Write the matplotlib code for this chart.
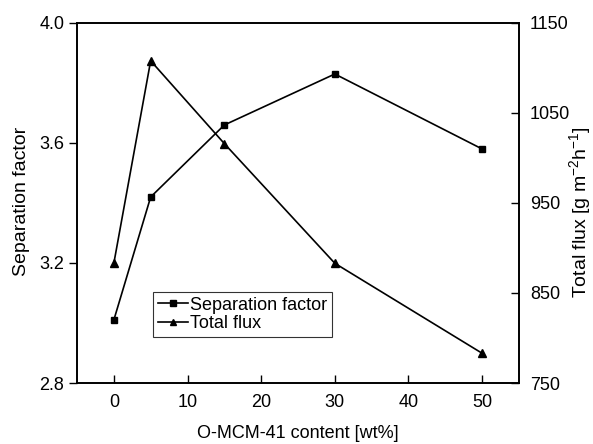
import matplotlib
matplotlib.use("Agg")
import matplotlib.pyplot as plt

plt.rcParams["font.family"] = ["Liberation Sans", "DejaVu Sans"]
plt.rcParams["mathtext.fontset"] = "custom"
plt.rcParams["mathtext.rm"] = "Liberation Sans"
plt.rcParams["mathtext.it"] = "Liberation Sans:italic"

content = [0, 5, 15, 30, 50]
separation_factor = [3.01, 3.42, 3.66, 3.83, 3.58]
total_flux = [883, 1108, 1016, 883, 783]

W, H = 593, 444
fig = plt.figure(figsize=(W / 100, H / 100), dpi=100)
ax = fig.add_axes([77 / W, 1 - 383 / H, (519 - 77) / W, (383 - 23) / H])
ax2 = ax.twinx()

l1, = ax.plot(content, separation_factor, color="black", marker="s", markersize=5, linewidth=1.2, label="Separation factor")
l2, = ax2.plot(content, total_flux, color="black", marker="^", markersize=6, linewidth=1.2, label="Total flux")

ax.set_xlim(-5, 55)
ax.set_ylim(2.8, 4.0)
ax2.set_ylim(750, 1150)
ax.set_xticks([0, 10, 20, 30, 40, 50])
ax.set_yticks([2.8, 3.2, 3.6, 4.0])
ax2.set_yticks([750, 850, 950, 1050, 1150])

ax.tick_params(axis="x", direction="in", length=6, width=1, labelsize=13, top=False, pad=8)
ax.tick_params(axis="y", direction="out", length=6, width=1, labelsize=13, pad=3)
ax2.tick_params(axis="y", direction="in", length=6, width=1, labelsize=13, pad=8)
for a in (ax, ax2):
    for s in a.spines.values():
        s.set_linewidth(1.2)

# axis titles placed in figure pixels to match the reference
fig.text(298 / W, 1 - 433 / H, "O-MCM-41 content [wt%]", fontsize=13, ha="center", va="center")
fig.text(21 / W, 1 - 201 / H, "Separation factor", fontsize=14, rotation=90, ha="center", va="center")
fig.text(580 / W, 1 - 212 / H, r"Total flux [g m$^{\mathregular{-2}}$h$^{\mathregular{-1}}$]",
         fontsize=14, rotation=90, ha="center", va="center")

leg = ax.legend([l1, l2], ["Separation factor", "Total flux"], loc="upper left",
                fontsize=13, frameon=True, fancybox=False, edgecolor="black",
                handlelength=1.7, handletextpad=0.1, borderpad=0.25, labelspacing=0.1,
                numpoints=1, borderaxespad=0, markerscale=0.8)
leg.set_bbox_to_anchor((153 / W, 1 - 292 / H), transform=fig.transFigure)
leg.get_frame().set_linewidth(0.8)

fig.savefig("out.png", dpi=100)
